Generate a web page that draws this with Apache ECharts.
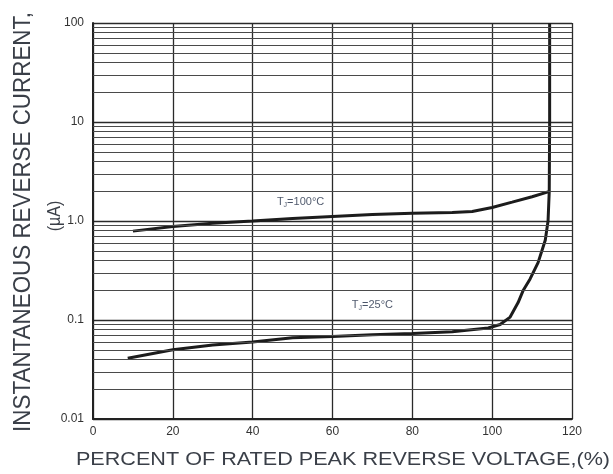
<!DOCTYPE html>
<html>
<head>
<meta charset="utf-8">
<script src="https://cdn.jsdelivr.net/npm/echarts@6/dist/echarts.min.js"></script>
<style>html,body{margin:0;padding:0;background:#fff}#c{width:613px;height:474px}</style>
</head>
<body>
<div id="c"></div>
<script>
var xTicks = [0, 20, 40, 60, 80, 100, 120];
var yTickLabels = {0.01: '0.01', 0.1: '0.1', 1: '1.0', 10: '10', 100: '100'};
var decades = [0.01, 0.1, 1, 10];
var minorMultipliers = [2, 3, 4, 5, 6, 7, 8, 9];

var t100 = [[10,0.79],[20,0.88],[30,0.95],[40,1.0],[50,1.06],[60,1.11],[70,1.16],[80,1.2],[90,1.22],[95,1.25],[100,1.37],[105,1.55],[110,1.76],[114.2,1.98]];
var t25 = [[8.7,0.041],[20,0.050],[30,0.056],[40,0.060],[50,0.066],[60,0.068],[70,0.071],[80,0.073],[90,0.076],[99,0.083],[102,0.09],[104.5,0.107],[106.5,0.15],[107.8,0.2],[109.5,0.26],[111.5,0.38],[113.3,0.64],[114,1.0],[114.3,2.0],[114.4,10],[114.4,100]];
var labelPts = [{value:[52,1.56], text:'T{s|J}=100°C'},{value:[70,0.142], text:'T{s|J}=25°C'}];

var minorLines = [];
decades.forEach(function(d){ minorMultipliers.forEach(function(m){ minorLines.push({yAxis: +(d*m).toPrecision(3)}); }); });

var chart = echarts.init(document.getElementById('c'), null, {renderer:'canvas'});
var font = '"Liberation Sans", Arial, sans-serif';
chart.setOption({
  animation: false,
  grid: {left: 93, right: 41, top: 23, bottom: 55},
  xAxis: {
    type: 'value', min: 0, max: 120, interval: 20,
    axisLine: {show: true, lineStyle: {color: '#222', width: 2}},
    axisTick: {show: false},
    axisLabel: {color: '#333', fontFamily: font, fontSize: 12, margin: 7},
    splitLine: {show: true, lineStyle: {color: '#2a2a2a', width: 1.3}}
  },
  yAxis: {
    type: 'log', logBase: 10, min: 0.01, max: 100,
    axisLine: {show: true, lineStyle: {color: '#222', width: 2}},
    axisTick: {show: false},
    axisLabel: {color: '#333', fontFamily: font, fontSize: 12, margin: 9,
      formatter: function(v){ var k = +v.toPrecision(3); return yTickLabels[k] || ''; }},
    splitLine: {show: true, lineStyle: {color: '#2a2a2a', width: 1.3}}
  },
  graphic: [
    {type:'text', x: 23, y: 222, rotation: Math.PI/2, scaleX: 1.12, scaleY: 1.2,
     style:{text:'INSTANTANEOUS REVERSE CURRENT,', font:'20px "Liberation Sans", Arial, sans-serif', fill:'#3a3f48', align:'center', verticalAlign:'middle'}},
    {type:'text', x: 55, y: 216, rotation: Math.PI/2, scaleY: 1.2,
     style:{text:'(µA)', font:'16px "Liberation Sans", Arial, sans-serif', fill:'#3a3f48', align:'center', verticalAlign:'middle'}},
    {type:'text', x: 343, y: 460, scaleX: 1.2,
     style:{text:'PERCENT OF RATED PEAK REVERSE VOLTAGE,(%)', font:'18px "Liberation Sans", Arial, sans-serif', fill:'#3a3f48', align:'center', verticalAlign:'middle'}}
  ],
  series: [
    {type:'line', data: [], silent: true,
     markLine: {silent: true, symbol: 'none', label: {show: false},
       lineStyle: {color: '#4a4a4a', width: 1.2, type: 'solid'}, data: minorLines}},
    {type:'line', data: t100, showSymbol: false, lineStyle: {color: '#1c1c1c', width: 3}},
    {type:'line', data: t25, showSymbol: false, lineStyle: {color: '#1c1c1c', width: 3}},
    {type:'scatter', symbolSize: 0, data: labelPts.map(function(p){return {value:p.value, text:p.text};}),
     label: {show: true, position: 'inside', color: '#1e2a44', fontFamily: font, fontSize: 11,
       formatter: function(p){ return p.data.text; },
       rich: {s: {fontSize: 7, padding: [6,0,0,0], color: '#1e2a44', fontFamily: font}}}}
  ]
});
</script>
</body>
</html>
